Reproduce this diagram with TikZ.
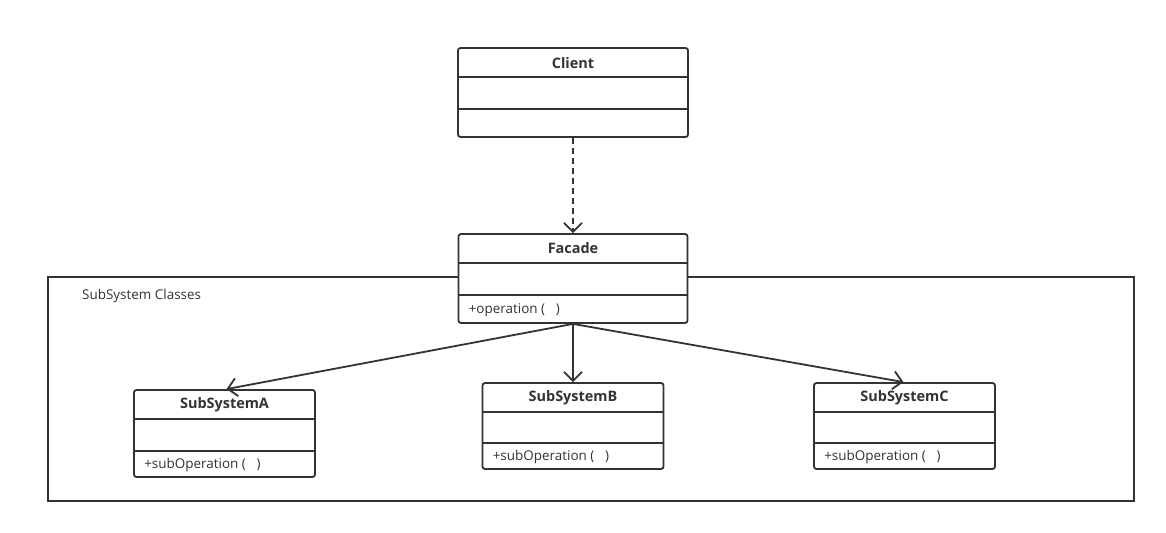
\documentclass[tikz,border=0pt]{standalone}
\usepackage{fontspec}
\setmainfont{Open Sans}
\usetikzlibrary{arrows.meta}
\definecolor{umlgray}{HTML}{333333}

\tikzset{
  classbox/.style={draw=umlgray, line width=1.8bp, rounded corners=2.5bp, fill=white,
    minimum height=89bp, inner sep=0pt},
  classtitle/.style={font=\fontsize{14.5}{17}\selectfont\bfseries, text=umlgray, inner sep=0pt},
  classop/.style={font=\fontsize{13.5}{16}\selectfont, text=umlgray, anchor=west, inner sep=0pt},
  sep/.style={draw=umlgray, line width=1.8bp},
  usearrow/.style={draw=umlgray, line width=1.8bp, -{Straight Barb[length=9bp,width=18bp,line width=1.8bp]}},
}

\begin{document}
\begin{tikzpicture}[x=1bp,y=-1bp]
  \useasboundingbox (0,0) rectangle (1166,533);

  % subsystem frame
  \node[draw=umlgray, line width=1.8bp, minimum width=1086bp, minimum height=224bp, inner sep=0pt]
    (subsys) at (591,389) {};
  \node[font=\fontsize{13.5}{16}\selectfont, text=umlgray, anchor=west, inner sep=0pt]
    (subsysT) at (82,296.5) {SubSystem Classes};

  % Client
  \node[classbox, minimum width=230bp] (client) at (573,92.5) {};
  \draw[sep] ([yshift=-30bp]client.north west) -- ([yshift=-30bp]client.north east);
  \draw[sep] ([yshift=29bp]client.south west) -- ([yshift=29bp]client.south east);
  \node[classtitle] (clientT) at ([yshift=-16bp]client.north) {Client};

  % Facade
  \node[classbox, minimum width=229bp] (facade) at (573,278.5) {};
  \draw[sep] ([yshift=-30bp]facade.north west) -- ([yshift=-30bp]facade.north east);
  \draw[sep] ([yshift=29bp]facade.south west) -- ([yshift=29bp]facade.south east);
  \node[classtitle] (facadeT) at ([yshift=-15bp]facade.north) {Facade};
  \node[classop] (facadeOp) at ([xshift=11bp,yshift=14bp]facade.south west) {+operation (\hspace{0.8em})};

  % SubSystemA
  \node[classbox, minimum width=181bp, minimum height=87bp] (subA) at (224.5,433.5) {};
  \draw[sep] ([yshift=-30bp]subA.north west) -- ([yshift=-30bp]subA.north east);
  \draw[sep] ([yshift=27bp]subA.south west) -- ([yshift=27bp]subA.south east);
  \node[classtitle] (subAT) at ([yshift=-16bp]subA.north) {SubSystemA};
  \node[classop] (subAOp) at ([xshift=11bp,yshift=12.5bp]subA.south west) {+subOperation (\hspace{0.8em})};

  % SubSystemB
  \node[classbox, minimum width=181bp, minimum height=86bp] (subB) at (573,426) {};
  \draw[sep] ([yshift=-30bp]subB.north west) -- ([yshift=-30bp]subB.north east);
  \draw[sep] ([yshift=27bp]subB.south west) -- ([yshift=27bp]subB.south east);
  \node[classtitle] (subBT) at ([yshift=-16bp]subB.north) {SubSystemB};
  \node[classop] (subBOp) at ([xshift=11bp,yshift=12.5bp]subB.south west) {+subOperation (\hspace{0.8em})};

  % SubSystemC
  \node[classbox, minimum width=181bp, minimum height=86bp] (subC) at (904.5,426) {};
  \draw[sep] ([yshift=-30bp]subC.north west) -- ([yshift=-30bp]subC.north east);
  \draw[sep] ([yshift=27bp]subC.south west) -- ([yshift=27bp]subC.south east);
  \node[classtitle] (subCT) at ([yshift=-16bp]subC.north) {SubSystemC};
  \node[classop] (subCOp) at ([xshift=11bp,yshift=12.5bp]subC.south west) {+subOperation (\hspace{0.8em})};

  % dependencies
  \draw[usearrow, dash pattern=on 6bp off 4bp] (client.south) -- (facade.north);
  \draw[usearrow] (facade.south) -- ([xshift=2bp]subA.north);
  \draw[usearrow] (facade.south) -- (subB.north);
  \draw[usearrow] (facade.south) -- ([xshift=-1bp]subC.north);
\end{tikzpicture}
\end{document}
